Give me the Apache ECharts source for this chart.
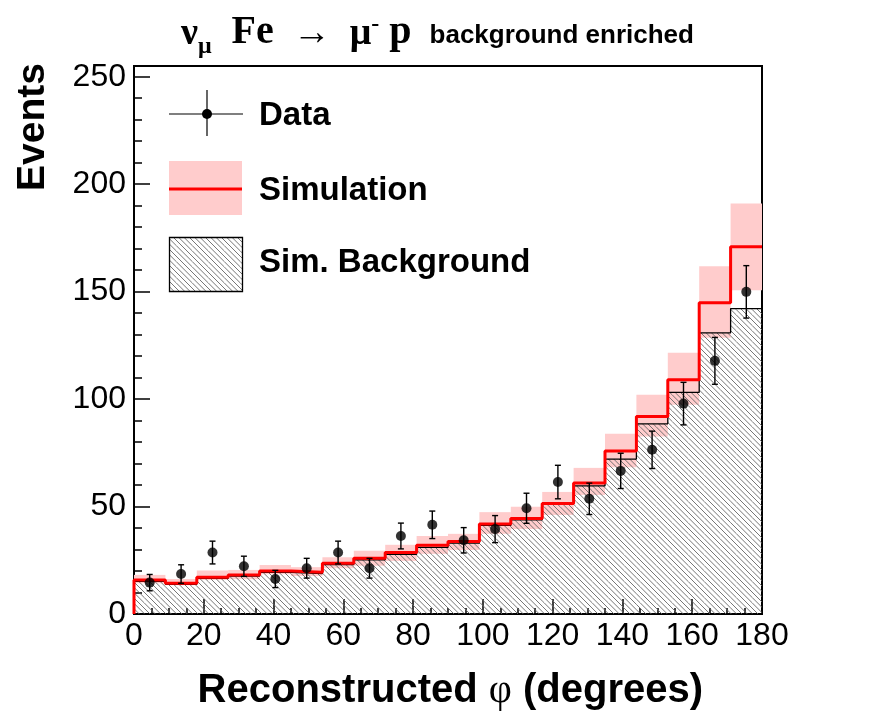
<!DOCTYPE html>
<html>
<head>
<meta charset="utf-8">
<script src="https://cdn.jsdelivr.net/npm/echarts@6/dist/echarts.min.js"></script>
<style>
  html, body { margin: 0; padding: 0; background: #fff; }
  #main { width: 896px; height: 722px; }
</style>
</head>
<body>
<div id="main"></div>
<script>
// bin edges in degrees (20 bins of 9 deg)
var binEdges = [0, 9, 18, 27, 36, 45, 54, 63, 72, 81, 90, 99, 108, 117, 126, 135, 144, 153, 162, 171, 180];
var binCenters = [4.5, 13.5, 22.5, 31.5, 40.5, 49.5, 58.5, 67.5, 76.5, 85.5, 94.5, 103.5, 112.5, 121.5, 130.5, 139.5, 148.5, 157.5, 166.5, 175.5];

// measured data with errors
var dataCounts = [14.6, 18.6, 28.6, 22.2, 16.3, 21.3, 28.6, 21.3, 36.3, 41.5, 34.3, 39.5, 49.2, 61.4, 53.6, 66.6, 76.4, 97.9, 117.8, 149.9];
var dataErr = [3.8, 4.3, 5.3, 4.7, 4.0, 4.6, 5.3, 4.6, 6.0, 6.4, 5.9, 6.3, 7.0, 7.8, 7.3, 8.2, 8.7, 9.9, 10.9, 12.2];

// simulation and its uncertainty band
var simCounts = [15.8, 14.3, 17.1, 18.2, 20.0, 19.4, 23.6, 25.9, 28.6, 32.0, 33.7, 41.9, 44.4, 51.4, 61.0, 75.8, 91.9, 109.0, 144.8, 170.9];
var simLow = [14.3, 13.4, 15.8, 16.2, 18.5, 17.7, 21.3, 22.5, 24.7, 28.0, 29.8, 37.3, 39.6, 46.1, 55.4, 68.3, 82.6, 97.4, 128.5, 150.7];
var simHigh = [18.2, 16.3, 20.2, 20.5, 22.8, 21.8, 26.4, 29.4, 32.2, 36.3, 37.3, 47.4, 49.9, 56.8, 68.0, 83.9, 102.0, 121.6, 161.8, 191.0];

// simulated background
var bkgCounts = [15.2, 13.8, 16.6, 17.6, 19.4, 18.8, 23.0, 25.2, 27.8, 31.0, 33.0, 41.2, 43.8, 51.3, 59.6, 72.1, 88.5, 103.1, 130.8, 142.1];

var xTicks = [0, 20, 40, 60, 80, 100, 120, 140, 160, 180];
var yTicks = [0, 50, 100, 150, 200, 250];

// hatch pattern "\\\\"
function makeHatch() {
    var s = 16;
    var c = document.createElement('canvas');
    c.width = s; c.height = s;
    var ctx = c.getContext('2d');
    ctx.strokeStyle = '#666';
    ctx.lineWidth = 0.9;
    var offs = [-16, -32 / 3, -16 / 3, 0, 16 / 3, 32 / 3, 16];
    offs.forEach(function (o) {
        ctx.beginPath();
        ctx.moveTo(0, o);
        ctx.lineTo(s, s + o);
        ctx.stroke();
    });
    return c;
}
var hatch = { image: makeHatch(), repeat: 'repeat' };

function stepLine(vals) {
    var pts = [[binEdges[0], 0]];
    vals.forEach(function (v, i) { pts.push([binEdges[i], v]); });
    pts.push([binEdges[binEdges.length - 1], vals[vals.length - 1]]);
    return pts;
}

var bandData = simLow.map(function (lo, i) { return [binEdges[i], binEdges[i + 1], lo, simHigh[i]]; });
var bkgData = bkgCounts.map(function (v, i) { return [binEdges[i], binEdges[i + 1], 0, v]; });
var errData = dataCounts.map(function (v, i) { return [binCenters[i], v - dataErr[i], v + dataErr[i]]; });
var ptData = dataCounts.map(function (v, i) { return [binCenters[i], v]; });

var myChart = echarts.init(document.getElementById('main'));

function rectItem(fill) {
    return function (params, api) {
        var p0 = api.coord([api.value(0), api.value(3)]);
        var p1 = api.coord([api.value(1), api.value(2)]);
        return {
            type: 'rect',
            shape: { x: p0[0], y: p0[1], width: p1[0] - p0[0], height: p1[1] - p0[1] },
            style: { fill: fill }
        };
    };
}

var font = 'Liberation Sans, Arial, sans-serif';
var serif = 'Liberation Serif, Times New Roman, serif';

option = {
    backgroundColor: '#fff',
    animation: false,
    title: {
        left: 176,
        top: 8,
        text: '{sym|ν}{sub|μ}{bf|  Fe}{sym|  →  μ}{sup|-}{bf| p}{b|background enriched}',
        textStyle: {
            rich: {
                sym: { fontFamily: serif, fontSize: 38, color: '#000', verticalAlign: 'bottom', padding: [0, 0, 6, 0] },
                sub: { fontFamily: serif, fontSize: 24, color: '#000', verticalAlign: 'bottom' },
                sup: { fontFamily: serif, fontSize: 24, fontWeight: 'bold', color: '#000', verticalAlign: 'top' },
                bf: { fontFamily: serif, fontSize: 40, fontWeight: 'bold', color: '#000', verticalAlign: 'bottom', padding: [0, 0, 6, 0] },
                b: { fontFamily: font, fontSize: 26, fontWeight: 'bold', color: '#000', verticalAlign: 'bottom', padding: [0, 0, 10, 18] }
            }
        }
    },
    grid: { left: 134, right: 134, top: 66, bottom: 108, show: true, borderColor: '#000', borderWidth: 2 },
    xAxis: {
        type: 'value', min: 0, max: 180, interval: 20,
        axisLine: { lineStyle: { color: '#000', width: 2 } },
        axisTick: { inside: true, length: 15, lineStyle: { color: '#000', width: 1.5 } },
        minorTick: { show: true, splitNumber: 4, length: 6, lineStyle: { color: '#000', width: 1.5 } },
        splitLine: { show: false },
        axisLabel: { color: '#000', fontFamily: font, fontSize: 32, margin: 6,
            formatter: function (v) { return xTicks.indexOf(v) >= 0 ? String(v) : ''; } }
    },
    yAxis: {
        type: 'value', min: 0, max: 255, interval: 50,
        axisLine: { lineStyle: { color: '#000', width: 2 } },
        axisTick: { inside: true, length: 16, lineStyle: { color: '#000', width: 1.5 } },
        minorTick: { show: true, splitNumber: 5, length: 8, lineStyle: { color: '#000', width: 1.5 } },
        splitLine: { show: false },
        axisLabel: { color: '#000', fontFamily: font, fontSize: 32, margin: 8,
            formatter: function (v) { return yTicks.indexOf(v) >= 0 ? String(v) : ''; } }
    },
    series: [
        {
            name: 'band', type: 'custom', data: bandData, z: 1,
            encode: { x: [0, 1], y: [2, 3] },
            renderItem: rectItem('#ffcccc')
        },
        {
            name: 'bkg', type: 'custom', data: bkgData, z: 2,
            encode: { x: [0, 1], y: [2, 3] },
            renderItem: rectItem(hatch)
        },
        {
            name: 'bkgLine', type: 'line', step: 'end', data: stepLine(bkgCounts), z: 3,
            symbol: 'none', lineStyle: { color: '#000', width: 1.3 }
        },
        {
            name: 'simLine', type: 'line', step: 'end', data: stepLine(simCounts), z: 4,
            symbol: 'none', lineStyle: { color: '#ff0000', width: 3 }
        },
        {
            name: 'err', type: 'custom', data: errData, z: 5,
            encode: { x: 0, y: [1, 2] },
            renderItem: function (params, api) {
                var lo = api.coord([api.value(0), api.value(1)]);
                var hi = api.coord([api.value(0), api.value(2)]);
                var w = 3;
                return {
                    type: 'group',
                    children: [
                        { type: 'line', shape: { x1: lo[0], y1: lo[1], x2: hi[0], y2: hi[1] }, style: { stroke: '#000', lineWidth: 1.4 } },
                        { type: 'line', shape: { x1: lo[0] - w, y1: lo[1], x2: lo[0] + w, y2: lo[1] }, style: { stroke: '#000', lineWidth: 1.4 } },
                        { type: 'line', shape: { x1: hi[0] - w, y1: hi[1], x2: hi[0] + w, y2: hi[1] }, style: { stroke: '#000', lineWidth: 1.4 } }
                    ]
                };
            }
        },
        {
            name: 'Data', type: 'scatter', data: ptData, z: 6,
            symbol: 'circle', symbolSize: 10, itemStyle: { color: '#000' }
        }
    ],
    graphic: [
        // legend: Data
        { type: 'line', shape: { x1: 169, y1: 114, x2: 243, y2: 114 }, style: { stroke: '#000', lineWidth: 1.2 }, z: 10 },
        { type: 'line', shape: { x1: 207, y1: 90, x2: 207, y2: 136 }, style: { stroke: '#000', lineWidth: 1.2 }, z: 10 },
        { type: 'circle', shape: { cx: 207, cy: 114, r: 5 }, style: { fill: '#000' }, z: 10 },
        { type: 'text', x: 259, y: 116, style: { text: 'Data', font: 'bold 33px ' + font, fill: '#000', verticalAlign: 'middle' }, z: 10 },
        // legend: Simulation
        { type: 'rect', shape: { x: 169, y: 161, width: 73, height: 54 }, style: { fill: '#ffcccc' }, z: 10 },
        { type: 'line', shape: { x1: 169, y1: 189, x2: 242, y2: 189 }, style: { stroke: '#ff0000', lineWidth: 3 }, z: 10 },
        { type: 'text', x: 259, y: 191, style: { text: 'Simulation', font: 'bold 33px ' + font, fill: '#000', verticalAlign: 'middle' }, z: 10 },
        // legend: Sim. Background
        { type: 'rect', shape: { x: 169.5, y: 237.5, width: 73, height: 54 }, style: { fill: hatch, stroke: '#000', lineWidth: 1.3 }, z: 10 },
        { type: 'text', x: 259, y: 263, style: { text: 'Sim. Background', font: 'bold 33px ' + font, fill: '#000', verticalAlign: 'middle' }, z: 10 },
        // axis titles
        { type: 'text', x: 33, y: 127, rotation: Math.PI / 2,
          style: { text: 'Events', font: 'bold 39px ' + font, fill: '#000', align: 'center', verticalAlign: 'middle' } },
        { type: 'text', x: 703, y: 691,
          style: {
              text: '{a|Reconstructed }{f|φ}{a| (degrees)}', align: 'right', verticalAlign: 'middle',
              rich: {
                  a: { font: 'bold 40px ' + font, fill: '#000' },
                  f: { font: '40px ' + serif, fill: '#000' }
              }
          } }
    ]
};

myChart.setOption(option);
</script>
</body>
</html>
